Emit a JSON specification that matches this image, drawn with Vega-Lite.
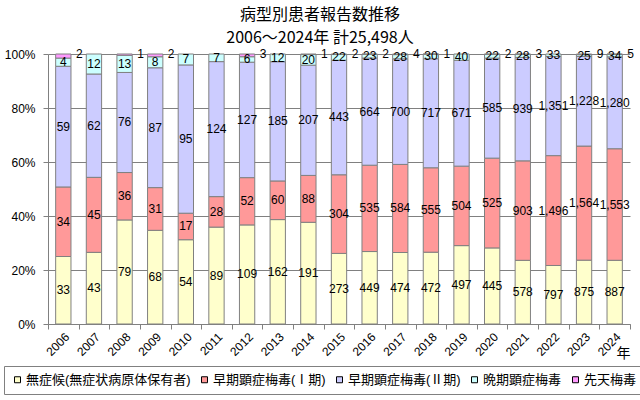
{
  "$schema": "https://vega.github.io/schema/vega-lite/v6.json",
  "width": 582,
  "height": 270,
  "autosize": {"type": "none"},
  "padding": {"left": 48, "top": 54, "right": 10, "bottom": 76},
  "background": "white",
  "title": {
    "text": ["病型別患者報告数推移", "2006～2024年  計25,498人"],
    "font": "Noto Sans CJK JP",
    "fontSize": 16,
    "fontWeight": "normal",
    "lineHeight": 23,
    "anchor": "middle",
    "frame": "group",
    "offset": 4,
    "dx": -19,
    "dy": 2,
    "color": "black"
  },
  "config": {
    "view": {"stroke": null},
    "axisY": {
      "values": [0, 0.2, 0.4, 0.6, 0.8, 1],
      "grid": true,
      "gridColor": "#808080",
      "gridWidth": 1,
      "tickSize": 5,
      "tickColor": "#808080",
      "domainColor": "#808080",
      "labelPadding": 8,
      "labelFont": "Liberation Sans",
      "labelFontSize": 12,
      "labelColor": "black"
    }
  },
  "data": {
    "values": [
      {"year": "2006", "type": "無症候(無症状病原体保有者)", "order": 1, "count": 33},
      {"year": "2006", "type": "早期顕症梅毒(Ⅰ期)", "order": 2, "count": 34},
      {"year": "2006", "type": "早期顕症梅毒(Ⅱ期)", "order": 3, "count": 59},
      {"year": "2006", "type": "晩期顕症梅毒", "order": 4, "count": 4},
      {"year": "2006", "type": "先天梅毒", "order": 5, "count": 2},
      {"year": "2007", "type": "無症候(無症状病原体保有者)", "order": 1, "count": 43},
      {"year": "2007", "type": "早期顕症梅毒(Ⅰ期)", "order": 2, "count": 45},
      {"year": "2007", "type": "早期顕症梅毒(Ⅱ期)", "order": 3, "count": 62},
      {"year": "2007", "type": "晩期顕症梅毒", "order": 4, "count": 12},
      {"year": "2007", "type": "先天梅毒", "order": 5, "count": 0},
      {"year": "2008", "type": "無症候(無症状病原体保有者)", "order": 1, "count": 79},
      {"year": "2008", "type": "早期顕症梅毒(Ⅰ期)", "order": 2, "count": 36},
      {"year": "2008", "type": "早期顕症梅毒(Ⅱ期)", "order": 3, "count": 76},
      {"year": "2008", "type": "晩期顕症梅毒", "order": 4, "count": 13},
      {"year": "2008", "type": "先天梅毒", "order": 5, "count": 1},
      {"year": "2009", "type": "無症候(無症状病原体保有者)", "order": 1, "count": 68},
      {"year": "2009", "type": "早期顕症梅毒(Ⅰ期)", "order": 2, "count": 31},
      {"year": "2009", "type": "早期顕症梅毒(Ⅱ期)", "order": 3, "count": 87},
      {"year": "2009", "type": "晩期顕症梅毒", "order": 4, "count": 8},
      {"year": "2009", "type": "先天梅毒", "order": 5, "count": 2},
      {"year": "2010", "type": "無症候(無症状病原体保有者)", "order": 1, "count": 54},
      {"year": "2010", "type": "早期顕症梅毒(Ⅰ期)", "order": 2, "count": 17},
      {"year": "2010", "type": "早期顕症梅毒(Ⅱ期)", "order": 3, "count": 95},
      {"year": "2010", "type": "晩期顕症梅毒", "order": 4, "count": 7},
      {"year": "2010", "type": "先天梅毒", "order": 5, "count": 0},
      {"year": "2011", "type": "無症候(無症状病原体保有者)", "order": 1, "count": 89},
      {"year": "2011", "type": "早期顕症梅毒(Ⅰ期)", "order": 2, "count": 28},
      {"year": "2011", "type": "早期顕症梅毒(Ⅱ期)", "order": 3, "count": 124},
      {"year": "2011", "type": "晩期顕症梅毒", "order": 4, "count": 7},
      {"year": "2011", "type": "先天梅毒", "order": 5, "count": 0},
      {"year": "2012", "type": "無症候(無症状病原体保有者)", "order": 1, "count": 109},
      {"year": "2012", "type": "早期顕症梅毒(Ⅰ期)", "order": 2, "count": 52},
      {"year": "2012", "type": "早期顕症梅毒(Ⅱ期)", "order": 3, "count": 127},
      {"year": "2012", "type": "晩期顕症梅毒", "order": 4, "count": 6},
      {"year": "2012", "type": "先天梅毒", "order": 5, "count": 3},
      {"year": "2013", "type": "無症候(無症状病原体保有者)", "order": 1, "count": 162},
      {"year": "2013", "type": "早期顕症梅毒(Ⅰ期)", "order": 2, "count": 60},
      {"year": "2013", "type": "早期顕症梅毒(Ⅱ期)", "order": 3, "count": 185},
      {"year": "2013", "type": "晩期顕症梅毒", "order": 4, "count": 12},
      {"year": "2013", "type": "先天梅毒", "order": 5, "count": 0},
      {"year": "2014", "type": "無症候(無症状病原体保有者)", "order": 1, "count": 191},
      {"year": "2014", "type": "早期顕症梅毒(Ⅰ期)", "order": 2, "count": 88},
      {"year": "2014", "type": "早期顕症梅毒(Ⅱ期)", "order": 3, "count": 207},
      {"year": "2014", "type": "晩期顕症梅毒", "order": 4, "count": 20},
      {"year": "2014", "type": "先天梅毒", "order": 5, "count": 1},
      {"year": "2015", "type": "無症候(無症状病原体保有者)", "order": 1, "count": 273},
      {"year": "2015", "type": "早期顕症梅毒(Ⅰ期)", "order": 2, "count": 304},
      {"year": "2015", "type": "早期顕症梅毒(Ⅱ期)", "order": 3, "count": 443},
      {"year": "2015", "type": "晩期顕症梅毒", "order": 4, "count": 22},
      {"year": "2015", "type": "先天梅毒", "order": 5, "count": 2},
      {"year": "2016", "type": "無症候(無症状病原体保有者)", "order": 1, "count": 449},
      {"year": "2016", "type": "早期顕症梅毒(Ⅰ期)", "order": 2, "count": 535},
      {"year": "2016", "type": "早期顕症梅毒(Ⅱ期)", "order": 3, "count": 664},
      {"year": "2016", "type": "晩期顕症梅毒", "order": 4, "count": 23},
      {"year": "2016", "type": "先天梅毒", "order": 5, "count": 2},
      {"year": "2017", "type": "無症候(無症状病原体保有者)", "order": 1, "count": 474},
      {"year": "2017", "type": "早期顕症梅毒(Ⅰ期)", "order": 2, "count": 584},
      {"year": "2017", "type": "早期顕症梅毒(Ⅱ期)", "order": 3, "count": 700},
      {"year": "2017", "type": "晩期顕症梅毒", "order": 4, "count": 28},
      {"year": "2017", "type": "先天梅毒", "order": 5, "count": 4},
      {"year": "2018", "type": "無症候(無症状病原体保有者)", "order": 1, "count": 472},
      {"year": "2018", "type": "早期顕症梅毒(Ⅰ期)", "order": 2, "count": 555},
      {"year": "2018", "type": "早期顕症梅毒(Ⅱ期)", "order": 3, "count": 717},
      {"year": "2018", "type": "晩期顕症梅毒", "order": 4, "count": 30},
      {"year": "2018", "type": "先天梅毒", "order": 5, "count": 1},
      {"year": "2019", "type": "無症候(無症状病原体保有者)", "order": 1, "count": 497},
      {"year": "2019", "type": "早期顕症梅毒(Ⅰ期)", "order": 2, "count": 504},
      {"year": "2019", "type": "早期顕症梅毒(Ⅱ期)", "order": 3, "count": 671},
      {"year": "2019", "type": "晩期顕症梅毒", "order": 4, "count": 40},
      {"year": "2019", "type": "先天梅毒", "order": 5, "count": 0},
      {"year": "2020", "type": "無症候(無症状病原体保有者)", "order": 1, "count": 445},
      {"year": "2020", "type": "早期顕症梅毒(Ⅰ期)", "order": 2, "count": 525},
      {"year": "2020", "type": "早期顕症梅毒(Ⅱ期)", "order": 3, "count": 585},
      {"year": "2020", "type": "晩期顕症梅毒", "order": 4, "count": 22},
      {"year": "2020", "type": "先天梅毒", "order": 5, "count": 2},
      {"year": "2021", "type": "無症候(無症状病原体保有者)", "order": 1, "count": 578},
      {"year": "2021", "type": "早期顕症梅毒(Ⅰ期)", "order": 2, "count": 903},
      {"year": "2021", "type": "早期顕症梅毒(Ⅱ期)", "order": 3, "count": 939},
      {"year": "2021", "type": "晩期顕症梅毒", "order": 4, "count": 28},
      {"year": "2021", "type": "先天梅毒", "order": 5, "count": 3},
      {"year": "2022", "type": "無症候(無症状病原体保有者)", "order": 1, "count": 797},
      {"year": "2022", "type": "早期顕症梅毒(Ⅰ期)", "order": 2, "count": 1496},
      {"year": "2022", "type": "早期顕症梅毒(Ⅱ期)", "order": 3, "count": 1351},
      {"year": "2022", "type": "晩期顕症梅毒", "order": 4, "count": 33},
      {"year": "2022", "type": "先天梅毒", "order": 5, "count": 0},
      {"year": "2023", "type": "無症候(無症状病原体保有者)", "order": 1, "count": 875},
      {"year": "2023", "type": "早期顕症梅毒(Ⅰ期)", "order": 2, "count": 1564},
      {"year": "2023", "type": "早期顕症梅毒(Ⅱ期)", "order": 3, "count": 1228},
      {"year": "2023", "type": "晩期顕症梅毒", "order": 4, "count": 25},
      {"year": "2023", "type": "先天梅毒", "order": 5, "count": 9},
      {"year": "2024", "type": "無症候(無症状病原体保有者)", "order": 1, "count": 887},
      {"year": "2024", "type": "早期顕症梅毒(Ⅰ期)", "order": 2, "count": 1553},
      {"year": "2024", "type": "早期顕症梅毒(Ⅱ期)", "order": 3, "count": 1280},
      {"year": "2024", "type": "晩期顕症梅毒", "order": 4, "count": 34},
      {"year": "2024", "type": "先天梅毒", "order": 5, "count": 5}
    ]
  },
  "transform": [{"filter": "datum.count > 0"}],
  "encoding": {
    "x": {
      "field": "year",
      "type": "ordinal",
      "scale": {"paddingInner": 0, "paddingOuter": 0},
      "axis": {
        "title": "年",
        "titleAngle": 0,
        "titleX": 575,
        "titleY": 29,
        "titleAlign": "center",
        "titleBaseline": "middle",
        "titleFont": "Noto Sans CJK JP",
        "titleFontSize": 14,
        "titleFontWeight": "normal",
        "titleColor": "black",
        "tickBand": "extent",
        "labelAngle": -45,
        "labelFont": "Liberation Sans",
        "labelFontSize": 12,
        "labelColor": "black",
        "tickSize": 5,
        "tickColor": "#808080",
        "domainColor": "#808080",
        "grid": false
      }
    }
  },
  "layer": [
    {
      "mark": {"type": "bar", "width": {"band": 0.5}, "stroke": "#808080", "strokeWidth": 1},
      "encoding": {
        "y": {
          "field": "count",
          "type": "quantitative",
          "stack": "normalize",
          "scale": {"domain": [0, 1], "nice": false},
          "axis": {"title": null, "format": ".0%"}
        },
        "color": {
          "field": "type",
          "type": "nominal",
          "scale": {
            "domain": ["無症候(無症状病原体保有者)", "早期顕症梅毒(Ⅰ期)", "早期顕症梅毒(Ⅱ期)", "晩期顕症梅毒", "先天梅毒"],
            "range": ["#FFFFCC", "#FF9999", "#CCCCFF", "#CCFFFF", "#FF99FF"]
          },
          "legend": {
            "title": null,
            "orient": "none",
            "legendX": -44,
            "legendY": 312,
            "direction": "horizontal",
            "symbolType": "square",
            "symbolSize": 36,
            "symbolStrokeColor": "#000000",
            "symbolStrokeWidth": 1,
            "labelFont": "Liberation Sans, Noto Sans CJK JP",
            "labelFontSize": 13,
            "labelColor": "black",
            "labelOffset": 2,
            "labelLimit": 0,
            "columnPadding": 7,
            "padding": 7,
            "strokeColor": "#808080",
            "fillColor": "white"
          }
        },
        "order": {"field": "order", "type": "quantitative", "sort": "ascending"}
      }
    },
    {
      "transform": [
        {"stack": "count", "groupby": ["year"], "offset": "normalize", "sort": [{"field": "order", "order": "ascending"}], "as": ["y0", "y1"]},
        {"calculate": "(datum.y0 + datum.y1) / 2", "as": "mid"},
        {"filter": "datum.order <= 4"}
      ],
      "mark": {"type": "text", "font": "Liberation Sans", "fontSize": 12, "color": "black", "align": "center", "baseline": "middle"},
      "encoding": {
        "y": {"field": "mid", "type": "quantitative", "axis": {"title": null, "format": ".0%"}},
        "text": {"field": "count", "type": "quantitative", "format": ","}
      }
    },
    {
      "transform": [{"filter": "datum.order == 5"}],
      "mark": {"type": "text", "font": "Liberation Sans", "fontSize": 12, "color": "black", "align": "center", "baseline": "middle", "dx": 16, "dy": 0},
      "encoding": {
        "y": {"datum": 1, "type": "quantitative", "axis": {"title": null, "format": ".0%"}},
        "text": {"field": "count", "type": "quantitative", "format": ","}
      }
    }
  ]
}
